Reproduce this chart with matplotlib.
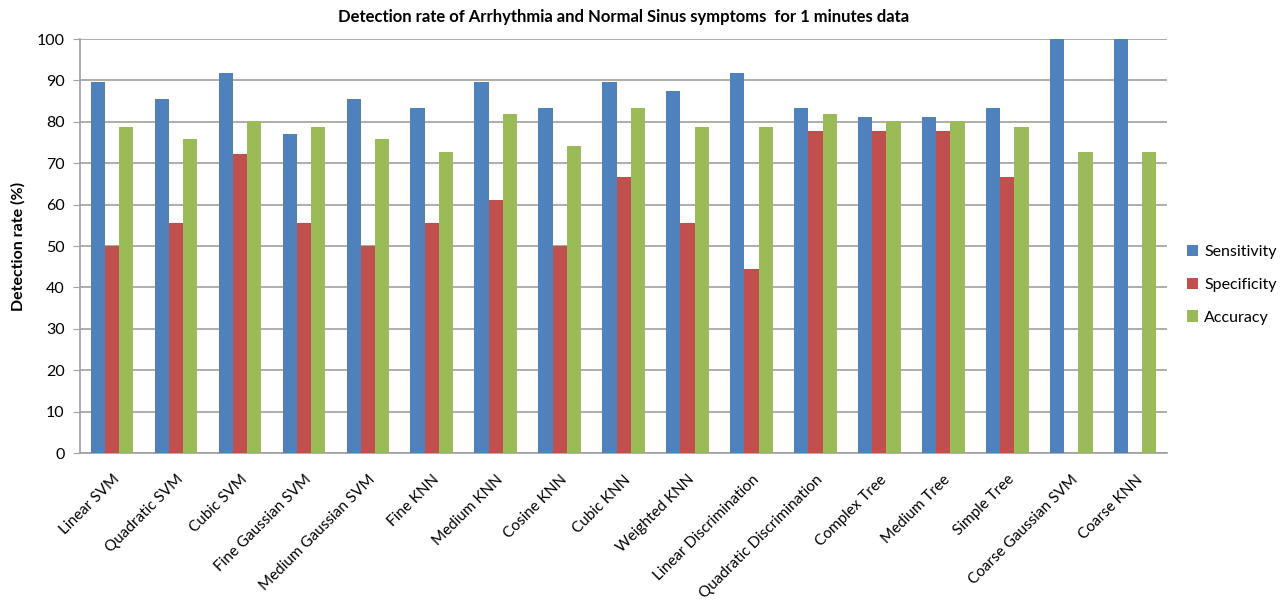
import numpy as np
import matplotlib
matplotlib.use("Agg")
import matplotlib.pyplot as plt

plt.rcParams["font.family"] = ["Lato", "DejaVu Sans"]

classifiers = ["Linear SVM", "Quadratic SVM", "Cubic SVM", "Fine Gaussian SVM",
               "Medium Gaussian SVM", "Fine KNN", "Medium KNN", "Cosine KNN",
               "Cubic KNN", "Weighted KNN", "Linear Discrimination",
               "Quadratic Discrimination", "Complex Tree", "Medium Tree",
               "Simple Tree", "Coarse Gaussian SVM", "Coarse KNN"]
sensitivity = [89.6, 85.4, 91.7, 77.1, 85.4, 83.3, 89.6, 83.3, 89.6, 87.5,
               91.7, 83.3, 81.25, 81.25, 83.3, 100, 100]
specificity = [50.0, 55.6, 72.2, 55.6, 50.0, 55.6, 61.1, 50.0, 66.7, 55.6,
               44.4, 77.8, 77.8, 77.8, 66.7, 0, 0]
accuracy = [78.8, 75.8, 80.3, 78.8, 75.8, 72.7, 81.8, 74.2, 83.3, 78.8,
            78.8, 81.8, 80.3, 80.3, 78.8, 72.7, 72.7]

fig = plt.figure(figsize=(12.85, 6.05), dpi=100)
ax = fig.add_axes([0.0623, 0.2512, 0.846, 0.6843])

x = np.arange(len(classifiers))
w = 0.222
ax.bar(x - w, sensitivity, w, color="#4F81BD", label="Sensitivity", zorder=3)
ax.bar(x, specificity, w, color="#C0504D", label="Specificity", zorder=3)
ax.bar(x + w, accuracy, w, color="#9BBB59", label="Accuracy", zorder=3)

ax.set_xlim(-0.5, len(classifiers) - 0.5)
ax.set_ylim(0, 100)
ax.set_yticks(range(0, 101, 10))
ax.yaxis.grid(True, color="#A0A0A0", lw=1.2, zorder=0)
for s in ["right", "top"]:
    ax.spines[s].set_visible(False)
for s in ["left", "bottom"]:
    ax.spines[s].set_color("#A0A0A0")
    ax.spines[s].set_linewidth(1.2)
ax.tick_params(axis="y", length=5, color="#A0A0A0", labelsize=11.5, pad=6)
ax.tick_params(axis="x", length=0, pad=14)
ax.set_xticks(x)
ax.set_xticklabels(classifiers, rotation=45, ha="right", rotation_mode="anchor",
                   fontsize=11)

ax.set_ylabel("Detection rate (%)", fontsize=11.5, fontweight="bold", labelpad=8)
ax.set_title("Detection rate of Arrhythmia and Normal Sinus symptoms  for 1 minutes data",
             fontsize=12, fontweight="bold", pad=12)

ax.legend(loc="center left", bbox_to_anchor=(1.012, 0.406), frameon=False,
          borderaxespad=0, fontsize=11.5, handlelength=0.7, handleheight=0.7,
          labelspacing=1.15, handletextpad=0.4)

fig.savefig("out.png", dpi=100)
